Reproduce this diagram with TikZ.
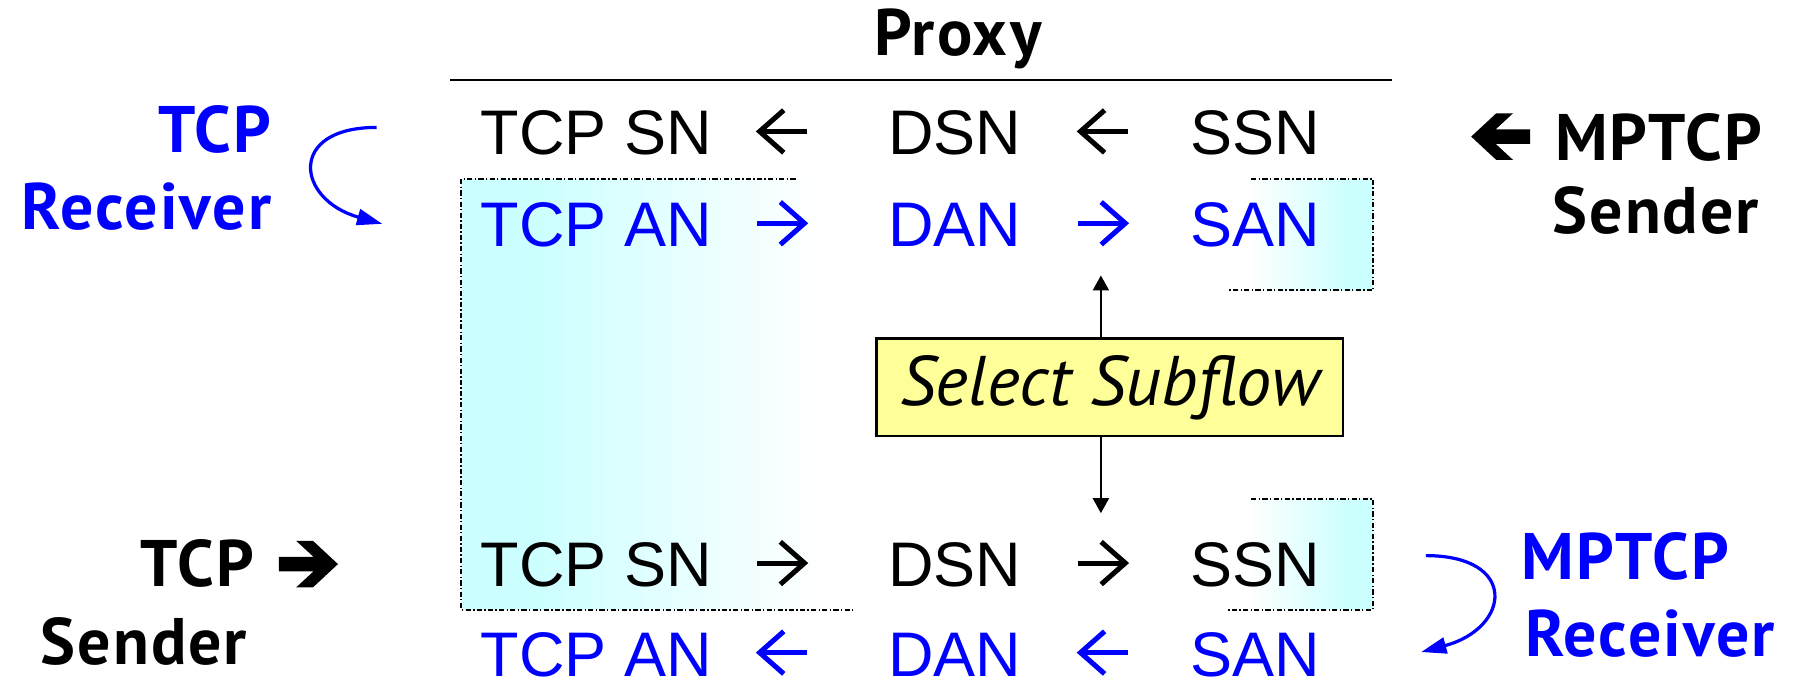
\documentclass[tikz,border=0pt]{standalone}
\usepackage{fontspec}
\setmainfont{Liberation Sans}
\newfontfamily\labelfont[LetterSpace=3]{PT Sans}
\newfontfamily\selfont{PT Sans}
\usetikzlibrary{arrows.meta}
\definecolor{acblue}{RGB}{0,0,255}
\definecolor{boxcyan}{RGB}{204,255,255}
\definecolor{selyellow}{RGB}{255,255,153}
\pgfdeclarehorizontalshading{fadeleft}{100bp}{color(0bp)=(boxcyan); color(34bp)=(boxcyan); color(71bp)=(white); color(100bp)=(white)}
\pgfdeclarehorizontalshading{faderight}{100bp}{color(0bp)=(white); color(32bp)=(white); color(67bp)=(boxcyan); color(100bp)=(boxcyan)}
\tikzset{
        x=0.01cm, y=-0.01cm,
        seq/.style={inner sep=0pt, anchor=base west, font=\fontsize{15.6}{18}\selectfont},
        ack/.style={seq, text=acblue},
        role/.style={inner sep=0pt, font=\labelfont\bfseries\fontsize{16.3}{19}\selectfont},
        subbox/.style={draw=black, line width=0.5pt, dash pattern=on 0.045cm off 0.02cm on 0.012cm off 0.02cm},
        selbox/.style={draw=black, line width=0.6pt, fill=selyellow, minimum width=4.06cm, minimum height=0.85cm, inner sep=0pt,
          font=\selfont\itshape\fontsize{17.4}{20}\selectfont},
        pick/.style={-{Triangle[length=0.13cm, width=0.14cm]}, line width=0.45pt},
        turn/.style={draw=acblue, line width=0.8pt, -{Triangle[length=0.22cm, width=0.14cm]}},
        seqarrow/.pic={\draw[line width=1.25pt] (-22,0) -- (19,0);
                       \draw[line width=1.25pt, line join=miter] (-1.5,-18.5) -- (19.5,0) -- (-1.5,18.5);},
        heavyarrow/.pic={\fill (0,-6.4) -- (30,-6.4) -- (15,-20.3) -- (29.6,-20.3) -- (51.4,0) -- (29.6,20.3) -- (15,20.3) -- (30,6.4) -- (0,6.4) -- cycle;}
          }
\begin{document}
\begin{tikzpicture}
            \useasboundingbox (0,0) rectangle (1568,594);
            \shade[shading=fadeleft] (402,156) rectangle (745,531);
            \draw[subbox] (693,156) -- (402,156) -- (402,531) -- (745,531);
            \shade[shading=faderight] (1070,156) rectangle (1196,253);
            \draw[subbox] (1090,156) -- (1196,156) -- (1196,253) -- (1070,253);
            \shade[shading=faderight] (1070,435) rectangle (1196,531);
            \draw[subbox] (1090,435) -- (1196,435) -- (1196,531) -- (1070,531);
            \node[role, anchor=base] (proxy) at (834.5,48) {Proxy};
            \draw[line width=0.5pt] (392,70) -- (1213,70);
            \foreach \n/\y/\my/\st/\col/\l/\m/\r/\rot in {1/135/114.5/seq/black/TCP SN/DSN/SSN/180, 2/215/194.5/ack/acblue/TCP AN/DAN/SAN/0,
                                                        3/511/490.5/seq/black/TCP SN/DSN/SSN/0, 4/589/568.5/ack/acblue/TCP AN/DAN/SAN/180}{
              \node[\st] (tcp\n) at (418,\y) {\l};
              \pic[rotate=\rot, color=\col] at (681.25,\my) {seqarrow};
              \node[\st] (d\n) at (773,\y) {\m};
              \pic[rotate=\rot, color=\col] at (960.75,\my) {seqarrow};
              \node[\st] (s\n) at (1036,\y) {\r};
            }
            \node[selbox] (sel) at (966.8,337.5) {Select Subflow};
            \coordinate (uptip) at (959,240);
            \coordinate (downtip) at (959,447);
            \draw[pick] (sel.north -| uptip) -- (uptip);
            \draw[pick] (sel.south -| downtip) -- (downtip);
            \node[role, text=acblue, anchor=base east] (rcvtcp) at (237,133) {TCP};
            \node[role, text=acblue, anchor=base east] (rcvname) at (237,200) {Receiver};
            \coordinate (rcvfrom) at (328,111);
            \coordinate (rcvto) at (333,195);
            \draw[turn] (rcvfrom) .. controls (250,111) and (258,174) .. (rcvto);
            \pic[rotate=180] at (1333,119) {heavyarrow};
            \node[role, anchor=base west] (sndmptcp) at (1354,140) {MPTCP};
            \node[role, anchor=base west] (sndname) at (1352,203) {Sender};
            \node[role, anchor=base west] (sndtcp) at (122,511) {TCP};
            \pic at (243,491.4) {heavyarrow};
            \node[role, anchor=base west] (tcpsndname) at (35,579) {Sender};
            \node[role, text=acblue, anchor=base west] (rcvmptcp) at (1325,505) {MPTCP};
            \node[role, text=acblue, anchor=base west] (mprcvname) at (1328,572) {Receiver};
            \coordinate (mprcvfrom) at (1242,484);
            \coordinate (mprcvto) at (1238,568);
            \draw[turn] (mprcvfrom) .. controls (1323,484) and (1316,547) .. (mprcvto);
          \end{tikzpicture}
\end{document}
